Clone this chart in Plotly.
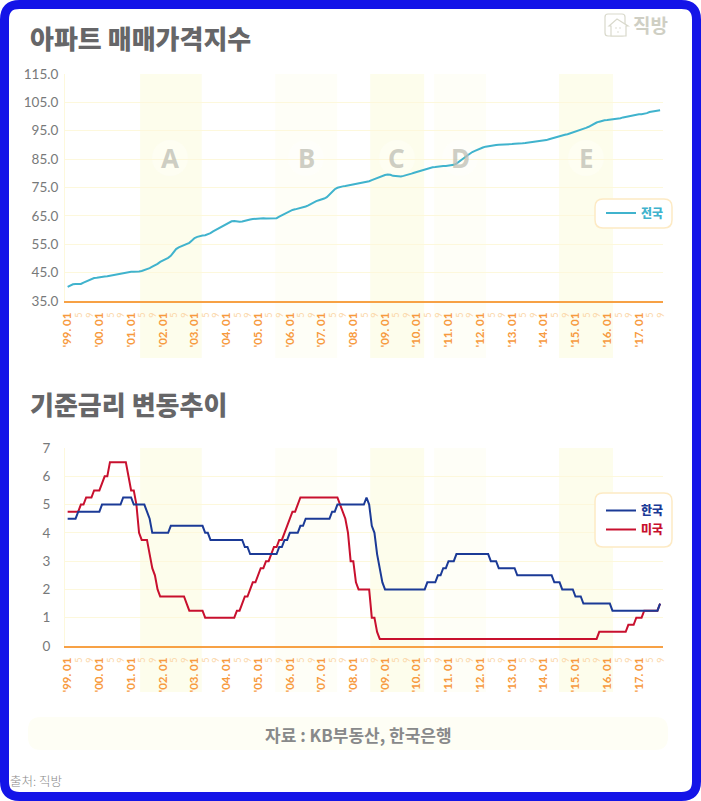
import plotly.graph_objects as go

W = 701
H = 801

YEAR_LABELS = ["'99", "'00", "'01", "'02", "'03", "'04", "'05", "'06", "'07", "'08",
               "'09", "'10", "'11", "'12", "'13", "'14", "'15", "'16", "'17"]
MINOR_MONTHS = ["5", "9"]

apt_index = [
    40.0, 40.4, 40.9, 41.0, 41.0, 41.0, 41.5, 41.9, 42.3, 42.8, 43.1, 43.2,
    43.4, 43.5, 43.6, 43.7, 43.9, 44.0, 44.2, 44.4, 44.6, 44.7, 45.0, 45.2,
    45.3, 45.3, 45.3, 45.4, 45.6, 45.9, 46.2, 46.6, 47.1, 47.5, 48.1, 48.8,
    49.2, 49.7, 50.2, 50.9, 52.3, 53.3, 53.9, 54.3, 54.6, 55.0, 55.5, 56.3,
    57.2, 57.6, 57.9, 58.1, 58.2, 58.5, 58.9, 59.5, 60.0, 60.6, 61.1, 61.5,
    62.0, 62.5, 63.1, 63.2, 63.0, 62.9, 63.0, 63.3, 63.5, 63.7, 63.9, 64.0,
    64.1, 64.2, 64.2, 64.1, 64.1, 64.1, 64.1, 64.2, 64.7, 65.2, 65.7, 66.3,
    66.8, 67.1, 67.3, 67.5, 67.7, 68.0, 68.3, 68.7, 69.2, 69.8, 70.2, 70.5,
    70.7, 71.1, 71.6, 72.6, 73.6, 74.4, 74.9, 75.2, 75.4, 75.5, 75.7, 75.8,
    76.0, 76.2, 76.4, 76.6, 76.7, 76.9, 77.2, 77.6, 78.0, 78.4, 78.8, 79.2,
    79.4, 79.6, 79.5, 79.1, 79.0, 78.8, 78.9, 79.1, 79.3, 79.5, 79.9, 80.2,
    80.5, 80.8, 81.0, 81.3, 81.7, 81.9, 82.1, 82.2, 82.4, 82.5, 82.6, 82.6,
    82.7, 82.8, 83.0, 83.4, 84.0, 84.7, 85.5, 86.2, 87.0, 87.5, 87.9, 88.4,
    88.8, 89.1, 89.4, 89.6, 89.8, 89.9, 90.0, 90.1, 90.1, 90.1, 90.2, 90.2,
    90.3, 90.4, 90.4, 90.5, 90.6, 90.7, 90.8, 90.9, 91.0, 91.1, 91.2, 91.3,
    91.5, 91.7, 92.0, 92.3, 92.6, 92.8, 93.1, 93.3, 93.6, 93.8, 94.1, 94.4,
    94.7, 94.9, 95.3, 95.6, 96.0, 96.4, 96.9, 97.5, 97.9, 98.2, 98.5, 98.7,
    98.8, 98.9, 99.0, 99.0, 99.1, 99.4, 99.7, 99.9, 100.2, 100.4, 100.5, 100.7,
    100.8, 100.8, 100.9, 101.2, 101.6, 101.7, 101.9, 102.1, 102.2,
]

korea_rate = [
    4.5, 4.5, 4.5, 4.5, 4.75, 4.75, 4.75, 4.75, 4.75, 4.75, 4.75, 4.75,
    4.75, 5, 5, 5, 5, 5, 5, 5, 5, 5.25, 5.25, 5.25,
    5.25, 5, 5, 5, 5, 5, 4.75, 4.5, 4, 4, 4, 4,
    4, 4, 4, 4.25, 4.25, 4.25, 4.25, 4.25, 4.25, 4.25, 4.25, 4.25,
    4.25, 4.25, 4.25, 4.25, 4, 4, 3.75, 3.75, 3.75, 3.75, 3.75, 3.75,
    3.75, 3.75, 3.75, 3.75, 3.75, 3.75, 3.75, 3.5, 3.5, 3.25, 3.25, 3.25,
    3.25, 3.25, 3.25, 3.25, 3.25, 3.25, 3.25, 3.25, 3.5, 3.5, 3.75, 3.75,
    4, 4, 4, 4, 4.25, 4.25, 4.5, 4.5, 4.5, 4.5, 4.5, 4.5,
    4.5, 4.5, 4.5, 4.5, 4.75, 4.75, 5, 5, 5, 5, 5, 5,
    5, 5, 5, 5, 5, 5.25, 5, 4.25, 4, 3.25, 2.75, 2.25,
    2, 2, 2, 2, 2, 2, 2, 2, 2, 2, 2, 2,
    2, 2, 2, 2, 2.25, 2.25, 2.25, 2.25, 2.5, 2.5, 2.75, 2.75,
    3, 3, 3, 3.25, 3.25, 3.25, 3.25, 3.25, 3.25, 3.25, 3.25, 3.25,
    3.25, 3.25, 3.25, 3.25, 3, 3, 3, 2.75, 2.75, 2.75, 2.75, 2.75,
    2.75, 2.75, 2.5, 2.5, 2.5, 2.5, 2.5, 2.5, 2.5, 2.5, 2.5, 2.5,
    2.5, 2.5, 2.5, 2.5, 2.25, 2.25, 2.25, 2, 2, 2, 2, 2,
    1.75, 1.75, 1.75, 1.5, 1.5, 1.5, 1.5, 1.5, 1.5, 1.5, 1.5, 1.5,
    1.5, 1.5, 1.25, 1.25, 1.25, 1.25, 1.25, 1.25, 1.25, 1.25, 1.25, 1.25,
    1.25, 1.25, 1.25, 1.25, 1.25, 1.25, 1.25, 1.25, 1.5,
]

us_rate = [
    4.75, 4.75, 4.75, 4.75, 4.75, 5, 5, 5.25, 5.25, 5.25, 5.5, 5.5,
    5.5, 5.75, 6, 6, 6.5, 6.5, 6.5, 6.5, 6.5, 6.5, 6.5, 6,
    5.5, 5.5, 5, 4, 3.75, 3.75, 3.75, 3.25, 2.75, 2.5, 2, 1.75,
    1.75, 1.75, 1.75, 1.75, 1.75, 1.75, 1.75, 1.75, 1.75, 1.5, 1.25, 1.25,
    1.25, 1.25, 1.25, 1.25, 1, 1, 1, 1, 1, 1, 1, 1,
    1, 1, 1, 1, 1.25, 1.25, 1.5, 1.75, 1.75, 2, 2.25, 2.25,
    2.5, 2.75, 2.75, 3, 3, 3.25, 3.5, 3.5, 3.75, 3.75, 4, 4.25,
    4.5, 4.75, 4.75, 5, 5.25, 5.25, 5.25, 5.25, 5.25, 5.25, 5.25, 5.25,
    5.25, 5.25, 5.25, 5.25, 5.25, 5.25, 5.25, 5, 4.75, 4.5, 4, 3,
    3, 2.25, 2, 2, 2, 2, 2, 1, 1, 0.5, 0.25, 0.25,
    0.25, 0.25, 0.25, 0.25, 0.25, 0.25, 0.25, 0.25, 0.25, 0.25, 0.25, 0.25,
    0.25, 0.25, 0.25, 0.25, 0.25, 0.25, 0.25, 0.25, 0.25, 0.25, 0.25, 0.25,
    0.25, 0.25, 0.25, 0.25, 0.25, 0.25, 0.25, 0.25, 0.25, 0.25, 0.25, 0.25,
    0.25, 0.25, 0.25, 0.25, 0.25, 0.25, 0.25, 0.25, 0.25, 0.25, 0.25, 0.25,
    0.25, 0.25, 0.25, 0.25, 0.25, 0.25, 0.25, 0.25, 0.25, 0.25, 0.25, 0.25,
    0.25, 0.25, 0.25, 0.25, 0.25, 0.25, 0.25, 0.25, 0.25, 0.25, 0.25, 0.25,
    0.25, 0.25, 0.25, 0.25, 0.25, 0.25, 0.25, 0.25, 0.25, 0.5, 0.5, 0.5,
    0.5, 0.5, 0.5, 0.5, 0.5, 0.5, 0.5, 0.5, 0.75, 0.75, 0.75, 1,
    1, 1, 1.25, 1.25, 1.25, 1.25, 1.25, 1.25, 1.5,
]

months = list(range(len(apt_index)))

# shaded periods, in months since '99.01
BAND_NAMES = ["A", "B", "C", "D", "E"]
BAND_START = [27.4, 78.5, 114.4, 138.6, 185.8]
BAND_END = [50.7, 101.9, 134.8, 158.2, 206.2]
BAND_COLORS = ["#fdfdec", "#fefef7", "#fdfdec", "#fefef7", "#fdfdec"]
LETTER_X = [170, 306, 397, 460, 586]

INDEX_TICKS = [35, 45, 55, 65, 75, 85, 95, 105, 115]
RATE_TICKS = [0, 1, 2, 3, 4, 5, 6, 7]

KR_FONT = "Noto Sans CJK KR"
BLUE = "#1414e8"
ORANGE = "#f7a145"
GRID = "#fdf8dc"
TEAL = "#40b3cd"
NAVY = "#1b3a96"
RED = "#c8102e"


def px(x):
    return x / W


def py(y):
    return 1 - y / H


def round_rect(x0, y0, x1, y1, r):
    return (
        f"M{px(x0 + r)},{py(y0)} L{px(x1 - r)},{py(y0)} Q{px(x1)},{py(y0)} {px(x1)},{py(y0 + r)} "
        f"L{px(x1)},{py(y1 - r)} Q{px(x1)},{py(y1)} {px(x1 - r)},{py(y1)} "
        f"L{px(x0 + r)},{py(y1)} Q{px(x0)},{py(y1)} {px(x0)},{py(y1 - r)} "
        f"L{px(x0)},{py(y0 + r)} Q{px(x0)},{py(y0)} {px(x0 + r)},{py(y0)} Z"
    )


def paper_path(path, fill=None, line=None, width=1, layer="below"):
    return dict(type="path", xref="paper", yref="paper", path=path, layer=layer,
                fillcolor=fill or "rgba(0,0,0,0)",
                line=dict(color=line or "rgba(0,0,0,0)", width=width if line else 0))


tickvals = []
ticktext = []
for i, year in enumerate(YEAR_LABELS):
    tickvals.append(i * 12)
    ticktext.append(f"{year}. 01")
    for j, m in enumerate(MINOR_MONTHS):
        tickvals.append(i * 12 + (j + 1) * 4)
        ticktext.append(f'<span style="font-size:9px;color:#fbd6a6;font-weight:400">{m}</span>')

fig = go.Figure()

fig.add_trace(go.Scatter(x=months, y=apt_index, mode="lines", name=f'<span style="color:{TEAL}">전국</span>',
                         line=dict(color=TEAL, width=2), xaxis="x", yaxis="y", legend="legend", showlegend=True))
fig.add_trace(go.Scatter(x=months, y=us_rate, mode="lines", name=f'<span style="color:{RED}">미국</span>',
                         line=dict(color=RED, width=2), xaxis="x2", yaxis="y2", legend="legend2", legendrank=2,
                         showlegend=True))
fig.add_trace(go.Scatter(x=months, y=korea_rate, mode="lines", name=f'<span style="color:{NAVY}">한국</span>',
                         line=dict(color=NAVY, width=2), xaxis="x2", yaxis="y2", legend="legend2", legendrank=1,
                         showlegend=True))

shapes = []
# shaded bands run below each chart's tick labels
for start, end, color in zip(BAND_START, BAND_END, BAND_COLORS):
    for xref, top, bottom in (("x", 74, 358), ("x2", 448, 692)):
        shapes.append(dict(type="rect", xref=xref, yref="paper", x0=start, x1=end,
                           y0=py(bottom), y1=py(top), fillcolor=color, line_width=0, layer="below"))

# soft halo behind the band letters
for x in LETTER_X:
    shapes.append(dict(type="circle", xref="paper", yref="paper", x0=px(x - 18), x1=px(x + 18),
                       y0=py(176), y1=py(140), fillcolor="rgba(255,255,255,0.35)", line_width=0, layer="below"))

# legend boxes
shapes.append(paper_path(round_rect(595, 199, 672, 228, 8), "white", "#fdeac4", 1.5, "above"))
shapes.append(paper_path(round_rect(595, 493, 672, 547, 8), "white", "#fdeac4", 1.5, "above"))

# source strip
shapes.append(paper_path(round_rect(28, 717, 668, 750, 13), "#fefef5", None, 0))

# logo
LOGO = "#d9d9cc"
shapes.append(paper_path(round_rect(605, 14, 625, 36, 3), None, LOGO, 1.2))
shapes.append(paper_path(
    f"M{px(609)},{py(26)} L{px(617)},{py(19)} L{px(628)},{py(26)} L{px(626)},{py(26)} L{px(626)},{py(36)} "
    f"L{px(611)},{py(36)} L{px(611)},{py(26)} Z", "white", LOGO, 1.2))
for dot_x, dot_y in ((616, 28), (620, 28), (618, 32)):
    shapes.append(dict(type="circle", xref="paper", yref="paper", x0=px(dot_x - 0.8), x1=px(dot_x + 0.8),
                       y0=py(dot_y + 0.8), y1=py(dot_y - 0.8), fillcolor=LOGO, line_width=0, layer="below"))

# blue frame
shapes.append(paper_path(round_rect(4.5, 4.5, 696.5, 796.5, 15), None, BLUE, 9, "above"))

annotations = [
    dict(text="아파트 매매가격지수", x=px(28), y=py(37), font=dict(size=26, color="#666668", weight=900)),
    dict(text="기준금리 변동추이", x=px(28), y=py(403), font=dict(size=26, color="#666668", weight=900)),
    dict(text="<b>직방</b>", x=px(631), y=py(25), font=dict(size=19, color="#cfcfc4")),
    dict(text="출처: 직방", x=px(8), y=py(780), font=dict(size=12.5, color="#8a8a8a", weight=300)),
]
for name, x in zip(BAND_NAMES, LETTER_X):
    annotations.append(dict(text=f"<b>{name}</b>", x=px(x), y=py(158), xanchor="center",
                            font=dict(size=26, color="rgba(190,190,180,0.75)", family="Noto Sans")))
annotations.append(dict(text="<b>자료 : KB부동산, 한국은행</b>", x=px(358), y=py(734), xanchor="center",
                        font=dict(size=17, color="#88898a")))
for a in annotations:
    a.update(xref="paper", yref="paper", showarrow=False, yanchor="middle")
    a.setdefault("xanchor", "left")
    a["font"].setdefault("family", KR_FONT)

x_style = dict(
    range=[-1, 225.1], domain=[px(65), px(663)], showgrid=False, zeroline=False, automargin=False,
    tickmode="array", tickvals=tickvals, ticktext=ticktext, tickangle=-90, ticks="",
    ticklabelstandoff=5, tickfont=dict(size=11.5, color="#f79a3e", family="Lato", weight=700),
    showline=True, linecolor=ORANGE, linewidth=2,
)
y_style = dict(
    showgrid=True, gridcolor=GRID, gridwidth=1, zeroline=False, ticks="", automargin=False,
    showline=True, linecolor=GRID, linewidth=1,
    tickfont=dict(size=13.5, color="#77797a", family="Lato"),
)

fig.update_layout(
    width=W, height=H, autosize=False,
    margin=dict(l=0, r=0, t=0, b=0),
    paper_bgcolor="white", plot_bgcolor="rgba(0,0,0,0)",
    hovermode=False,
    shapes=shapes, annotations=annotations,
    xaxis=dict(anchor="y", **x_style),
    xaxis2=dict(anchor="y2", **x_style),
    yaxis=dict(anchor="x", domain=[py(301), py(74)], range=[35, 115], tickvals=INDEX_TICKS,
               tickformat=".1f", ticklabelstandoff=3, **y_style),
    yaxis2=dict(anchor="x2", domain=[py(646), py(448)], range=[0, 7], tickvals=RATE_TICKS,
                ticklabelstandoff=11, **y_style),
    legend=dict(x=px(601), y=py(213), xanchor="left", yanchor="middle", bgcolor="rgba(0,0,0,0)",
                font=dict(size=12, family=KR_FONT, weight=900)),
    legend2=dict(x=px(601), y=py(520), xanchor="left", yanchor="middle", bgcolor="rgba(0,0,0,0)",
                 font=dict(size=12, family=KR_FONT, weight=900)),
)

fig.write_html("out.html", config={"displayModeBar": False}, post_script="document.body.style.margin='0';")
